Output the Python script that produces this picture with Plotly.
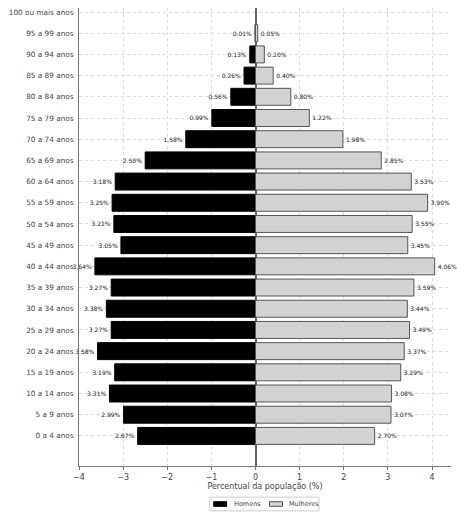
import plotly.graph_objects as go

faixas = [
    "0 a 4 anos", "5 a 9 anos", "10 a 14 anos", "15 a 19 anos", "20 a 24 anos",
    "25 a 29 anos", "30 a 34 anos", "35 a 39 anos", "40 a 44 anos", "45 a 49 anos",
    "50 a 54 anos", "55 a 59 anos", "60 a 64 anos", "65 a 69 anos", "70 a 74 anos",
    "75 a 79 anos", "80 a 84 anos", "85 a 89 anos", "90 a 94 anos", "95 a 99 anos",
    "100 ou mais anos",
]
homens = [2.67, 2.99, 3.31, 3.19, 3.58, 3.27, 3.38, 3.27, 3.64, 3.05,
          3.21, 3.25, 3.18, 2.50, 1.58, 0.99, 0.56, 0.26, 0.13, 0.01, None]
mulheres = [2.70, 3.07, 3.08, 3.29, 3.37, 3.49, 3.44, 3.59, 4.06, 3.45,
            3.55, 3.90, 3.53, 2.85, 1.98, 1.22, 0.80, 0.40, 0.20, 0.05, None]
x_ticks = [-4, -3, -2, -1, 0, 1, 2, 3, 4]

COR_H = "black"
COR_M = "#d3d3d3"
BORDA_M = "#555555"

homens_neg = [-v if v is not None else None for v in homens]
homens_txt = [f"{v:.2f}%" if v is not None else "" for v in homens]
mulheres_txt = [f"{v:.2f}%" if v is not None else "" for v in mulheres]

fig = go.Figure()

fig.add_trace(
    go.Bar(
        y=faixas, x=homens_neg, orientation="h", name="Homens",
        marker=dict(color=COR_H, line=dict(color=COR_H, width=1)),
        text=homens_txt, textposition="outside", cliponaxis=False,
        outsidetextfont=dict(size=6, color="#222222"),
        width=0.8, showlegend=False,
    )
)
fig.add_trace(
    go.Bar(
        y=faixas, x=mulheres, orientation="h", name="Mulheres",
        marker=dict(color=COR_M, line=dict(color=BORDA_M, width=1)),
        text=mulheres_txt, textposition="outside", cliponaxis=False,
        outsidetextfont=dict(size=6, color="#222222"),
        width=0.8, showlegend=False,
    )
)

# legenda desenhada à mão (estilo matplotlib, compacta)
fig.add_shape(type="rect", xref="paper", yref="paper",
              x0=0.352, x1=0.645, y0=-0.098, y1=-0.068,
              line=dict(color="#cccccc", width=1), fillcolor="white")
fig.add_shape(type="rect", xref="paper", yref="paper",
              x0=0.362, x1=0.397, y0=-0.088, y1=-0.078,
              line=dict(color=COR_H, width=1), fillcolor=COR_H)
fig.add_shape(type="rect", xref="paper", yref="paper",
              x0=0.512, x1=0.547, y0=-0.088, y1=-0.078,
              line=dict(color=BORDA_M, width=1), fillcolor=COR_M)
for x_txt, nome in [(0.411, "Homens"), (0.559, "Mulheres")]:
    fig.add_annotation(x=x_txt, y=-0.083, xref="paper", yref="paper",
                       text=nome, showarrow=False, xanchor="left", yanchor="middle",
                       font=dict(size=6.5, color="#444444"))

fig.update_layout(
    width=468, height=504,
    barmode="overlay",
    paper_bgcolor="white", plot_bgcolor="white",
    font=dict(family="DejaVu Sans", size=8, color="#444444"),
    margin=dict(l=71, r=25, t=0, b=46, autoexpand=False),
    showlegend=False,
    uniformtext=dict(minsize=5, mode="show"),
)
fig.update_xaxes(
    range=[-4.0, 4.43], tickvals=x_ticks,
    ticktext=[str(t).replace("-", "\u2212") for t in x_ticks],
    showgrid=True, gridcolor="#dcdcdc", griddash="dot", gridwidth=1,
    zeroline=True, zerolinecolor="#666666", zerolinewidth=1.5,
    showline=True, linecolor="#777777", linewidth=1,
    ticks="outside", ticklen=3, tickcolor="#777777",
    title=dict(text="Percentual da população (%)", font=dict(size=8), standoff=0),
    layer="above traces", automargin=False,
)
fig.update_yaxes(
    categoryorder="array", categoryarray=faixas,
    range=[-1.42, 20.19],
    showgrid=True, gridcolor="#dcdcdc", griddash="dot", gridwidth=1,
    showline=True, linecolor="#777777", linewidth=1,
    ticks="", ticklabelstandoff=3,
    tickfont=dict(size=7.3),
    layer="above traces", automargin=False,
)

fig.write_html("out.html")
